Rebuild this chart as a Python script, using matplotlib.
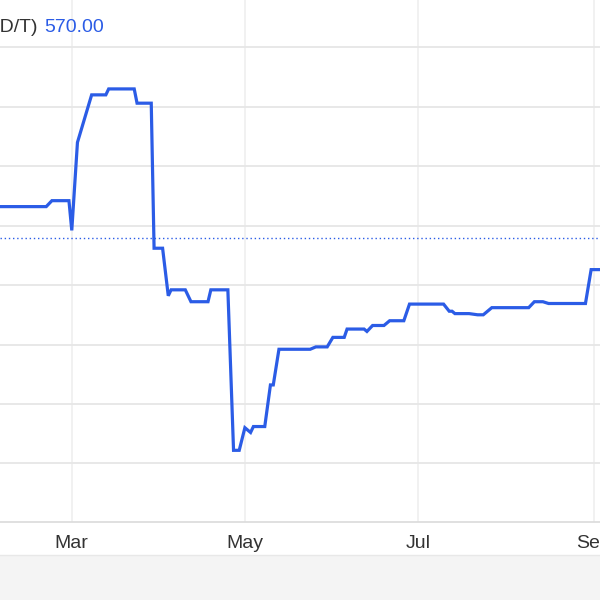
import matplotlib
matplotlib.use("Agg")
import matplotlib.pyplot as plt
import matplotlib.dates as mdates
from matplotlib.patches import Rectangle
import numpy as np

# price series, USD/T
dates = [
    "2024-02-05", "2024-02-21", "2024-02-23", "2024-02-29", "2024-03-01",
    "2024-03-03", "2024-03-08", "2024-03-13", "2024-03-14", "2024-03-23",
    "2024-03-24", "2024-03-29", "2024-03-30", "2024-04-02", "2024-04-04",
    "2024-04-05", "2024-04-10", "2024-04-12", "2024-04-18", "2024-04-19",
    "2024-04-25", "2024-04-27", "2024-04-29", "2024-05-01", "2024-05-03",
    "2024-05-04", "2024-05-08", "2024-05-10", "2024-05-11", "2024-05-13",
    "2024-05-24", "2024-05-26", "2024-05-30", "2024-06-01", "2024-06-05",
    "2024-06-06", "2024-06-12", "2024-06-13", "2024-06-15", "2024-06-19",
    "2024-06-21", "2024-06-26", "2024-06-28", "2024-07-10", "2024-07-12",
    "2024-07-13", "2024-07-14", "2024-07-19", "2024-07-22", "2024-07-24",
    "2024-07-27", "2024-08-09", "2024-08-11", "2024-08-14", "2024-08-16",
    "2024-08-29", "2024-08-31", "2024-09-03",
]
prices = [
    596, 596, 601, 601, 576,
    650, 690, 690, 695, 695,
    683, 683, 561, 561, 521,
    526, 526, 516, 516, 526,
    526, 391, 391, 410, 406,
    411, 411, 446, 446, 476,
    476, 478, 478, 486, 486,
    493, 493, 491, 496, 496,
    500, 500, 514, 514, 508,
    508, 506, 506, 505, 505,
    511, 511, 516, 516, 514.5,
    514.5, 543, 543,
]
last_price = 570.00
unit_label = "(USD/T)"

line_blue = "#2b5ce6"
grid_col = "#e6e6e6"

x = np.array(dates, dtype="datetime64[D]")

fig = plt.figure(figsize=(6, 6), dpi=100)
ax = fig.add_axes([0, 1 - 522 / 600, 1, 522 / 600])

ax.plot(x, prices, color=line_blue, lw=2.3, solid_joinstyle="miter", zorder=3)
ax.axhline(last_price, color=line_blue, lw=1, ls=(0, (1, 2)), zorder=2)

ax.set_ylim(330.7, 769.8)
ax.set_xlim(np.datetime64("2024-02-04T17"), np.datetime64("2024-09-03T03"))
ax.set_yticks(np.arange(380, 731, 50))
ax.xaxis.set_major_locator(mdates.MonthLocator(bymonth=[3, 5, 7, 9]))
ax.xaxis.set_major_formatter(mdates.DateFormatter("%b"))

ax.grid(axis="y", color=grid_col, lw=1.3)
ax.grid(axis="x", color="#f0f0f0", lw=1.3)
ax.set_axisbelow(True)
for side in ["top", "left", "right"]:
    ax.spines[side].set_visible(False)
ax.spines["bottom"].set_color("#dddddd")
ax.spines["bottom"].set_linewidth(1.3)
ax.tick_params(axis="y", left=False, labelleft=False)
ax.tick_params(axis="x", length=0, pad=9, labelsize=14, labelcolor="#333333")
for lab in ax.get_xticklabels():
    lab.set_fontfamily("Liberation Sans")

# grey band under the axis labels
fig.patches.append(Rectangle((0, 0), 1, 45 / 600, transform=fig.transFigure,
                             facecolor="#f4f4f4", edgecolor="none", zorder=0))
fig.lines.append(plt.Line2D([0, 1], [45 / 600, 45 / 600], transform=fig.transFigure,
                            color="#e8e8e8", lw=1))

fig.text(38 / 600, 1 - 28 / 600, unit_label, ha="right", va="center",
         fontsize=14, color="#333333", family="Liberation Sans")
fig.text(44 / 600, 1 - 28 / 600, f"{last_price:.2f}", ha="left", va="center",
         fontsize=14, color=line_blue, family="Liberation Sans")

fig.savefig("out.png", dpi=100)
